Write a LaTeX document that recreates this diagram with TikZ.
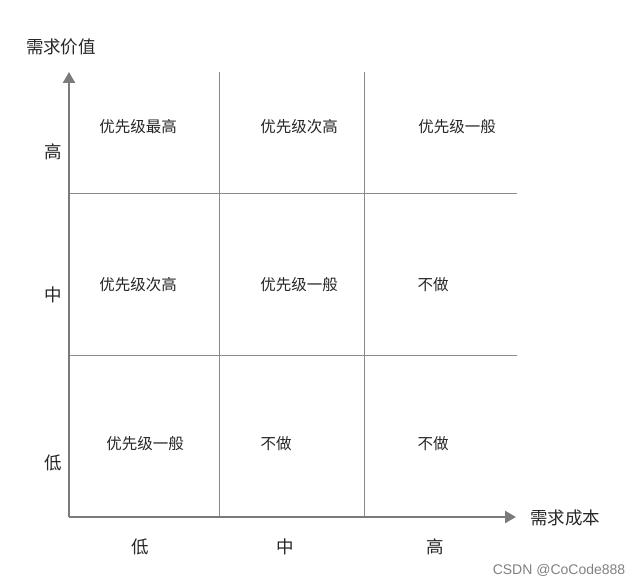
\documentclass[tikz,border=0pt]{standalone}
\usepackage{fontspec}
\setmainfont{Noto Sans CJK SC}
\newfontfamily\wmfont{Liberation Sans}
\usetikzlibrary{arrows.meta}
\definecolor{axisgray}{HTML}{7A7A7A}
\definecolor{gridgray}{HTML}{8A8A8A}
\begin{document}
\begin{tikzpicture}[x=1pt,y=-1pt,
  axisline/.style={draw=axisgray,line width=2.3pt,-{Triangle[width=12pt,length=11pt]}},
  gridline/.style={draw=gridgray,line width=0.9pt},
  cell/.style={font=\fontsize{15.5}{17}\selectfont,text=black!85,inner sep=0pt},
  axlabel/.style={font=\fontsize{17.5}{19}\selectfont,text=black!85,inner sep=0pt}]
\useasboundingbox (0,0) rectangle (640,586);
\coordinate (O) at (69,517);
\coordinate (Ytop) at (69,72);
\coordinate (Xend) at (516,517);
% grid
\coordinate (v1t) at (219,72); \coordinate (v1b) at (219,517);
\coordinate (v2t) at (364,72); \coordinate (v2b) at (364,517);
\coordinate (h1l) at (69,193); \coordinate (h1r) at (517,193);
\coordinate (h2l) at (69,355); \coordinate (h2r) at (517,355);
\draw[gridline] (v1t) -- (v1b);
\draw[gridline] (v2t) -- (v2b);
\draw[gridline] (h1l) -- (h1r);
\draw[gridline] (h2l) -- (h2r);
% axes
\draw[axisline] (O) -- (Ytop);
\draw[axisline] (O) -- (Xend);
% axis labels
\node[axlabel] (ylab) at (61,47) {需求价值};
\node[axlabel] (xlab) at (565,518) {需求成本};
\node[axlabel] (yh) at (53,152) {高};
\node[axlabel] (ym) at (53,295) {中};
\node[axlabel] (yl) at (53,463) {低};
\node[axlabel] (xl) at (140,547) {低};
\node[axlabel] (xm) at (285,547) {中};
\node[axlabel] (xh) at (435,547) {高};
% cells
\node[cell] (c11) at (138,127) {优先级最高};
\node[cell] (c12) at (299,127) {优先级次高};
\node[cell] (c13) at (457,127) {优先级一般};
\node[cell] (c21) at (138,285) {优先级次高};
\node[cell] (c22) at (299,285) {优先级一般};
\node[cell] (c23) at (433,285) {不做};
\node[cell] (c31) at (145,444) {优先级一般};
\node[cell] (c32) at (276,444) {不做};
\node[cell] (c33) at (433,444) {不做};
% watermark
\node[font=\wmfont\fontsize{14}{16}\selectfont,text=black!50,inner sep=0pt] (wm) at (559,570) {CSDN @CoCode888};
\end{tikzpicture}
\end{document}
